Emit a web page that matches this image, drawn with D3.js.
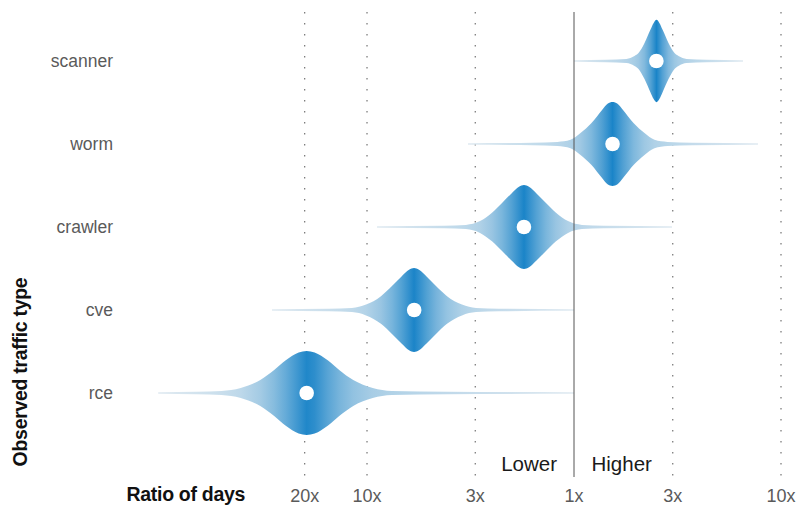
<!DOCTYPE html>
<html>
<head>
<meta charset="utf-8">
<script src="https://cdn.jsdelivr.net/npm/d3@7"></script>
<style>
  html, body { margin: 0; padding: 0; background: #fff; }
  svg { display: block; font-family: "Liberation Sans", Arial, Helvetica, sans-serif; }
</style>
</head>
<body>
<svg id="chart" width="797" height="506"></svg>
<script>
// ---------------- DATA ----------------
const categories = ["scanner", "worm", "crawler", "cve", "rce"];
// median ratio of days (values < 1 are "Lower", > 1 are "Higher")
const medians = [2.50, 1.535, 0.573, 0.169, 0.0511];

// density profiles: ratio positions and relative density (0..1)
const scannerRatio   = [1.00, 1.436, 1.793, 1.959, 2.049, 2.191, 2.342, 2.421, 2.504, 2.589, 2.676, 2.861, 3.059, 3.198, 3.496, 4.366, 6.553];
const scannerDensity = [0.02, 0.03, 0.05, 0.12, 0.19, 0.43, 0.75, 0.90, 0.98, 0.90, 0.75, 0.43, 0.19, 0.12, 0.05, 0.03, 0.02];

const wormRatio   = [0.3075, 0.630, 0.832, 0.962, 1.075, 1.215, 1.366, 1.452, 1.535, 1.623, 1.725, 1.939, 2.191, 2.448, 2.830, 3.736, 7.742];
const wormDensity = [0.02, 0.03, 0.05, 0.10, 0.26, 0.50, 0.81, 0.96, 1.00, 0.96, 0.81, 0.50, 0.26, 0.10, 0.05, 0.03, 0.02];

const crawlerRatio   = [0.1117, 0.2355, 0.3007, 0.3515, 0.4016, 0.449, 0.499, 0.5423, 0.5733, 0.6061, 0.6589, 0.7323, 0.8185, 0.9354, 1.093, 1.396, 2.974];
const crawlerDensity = [0.02, 0.03, 0.05, 0.14, 0.34, 0.57, 0.80, 0.96, 1.00, 0.96, 0.80, 0.57, 0.34, 0.14, 0.05, 0.03, 0.02];

const cveRatio   = [0.03476, 0.06554, 0.0846, 0.0989, 0.1168, 0.1320, 0.1468, 0.1596, 0.1687, 0.1783, 0.1939, 0.2154, 0.2435, 0.2876, 0.3362, 0.4342, 1.00];
const cveDensity = [0.02, 0.03, 0.05, 0.13, 0.33, 0.57, 0.80, 0.96, 1.00, 0.96, 0.80, 0.57, 0.33, 0.13, 0.05, 0.03, 0.02];

const rceRatio   = [0.0098, 0.01504, 0.01986, 0.02454, 0.0305, 0.0356, 0.0405, 0.04675, 0.0511, 0.05585, 0.0646, 0.0734, 0.0858, 0.1066, 0.1316, 0.2427, 1.00];
const rceDensity = [0.02, 0.03, 0.05, 0.12, 0.31, 0.55, 0.78, 0.965, 1.00, 0.965, 0.78, 0.55, 0.31, 0.12, 0.05, 0.03, 0.02];

const profileRatios = [scannerRatio, wormRatio, crawlerRatio, cveRatio, rceRatio];
const profileDensities = [scannerDensity, wormDensity, crawlerDensity, cveDensity, rceDensity];

const tickValues = [1/20, 1/10, 1/3, 1, 3, 10];
const tickLabels = ["20x", "10x", "3x", "1x", "3x", "10x"];

// ---------------- CHART ----------------
const svg = d3.select("#chart");
const x = d3.scaleLog().domain([1/20, 10]).range([304.7, 781]);
const y = d3.scalePoint().domain(categories).range([61, 393]);
const h = d3.scaleLinear().domain([0, 1]).range([0, 42]);
const gridTop = 12, gridBottom = 477;

const pale = "#e0eaf1", dark = "#1a84c8";
const colorAt = d3.interpolateRgb(pale, dark);

// dotted gridlines
svg.append("g").selectAll("line")
  .data(tickValues.filter(v => v !== 1))
  .join("line")
  .attr("x1", d => x(d)).attr("x2", d => x(d))
  .attr("y1", gridTop).attr("y2", gridBottom)
  .attr("stroke", "#666").attr("stroke-width", 1.1)
  .attr("stroke-dasharray", "1.5,9.5");

const defs = svg.append("defs");
const area = d3.area().curve(d3.curveMonotoneX);

categories.forEach((cat, i) => {
  const cy = y(cat);
  const pts = profileRatios[i].map((r, j) => ({ r, d: profileDensities[i][j], px: x(r) }));
  // cumulative distribution (trapezoid in pixel space)
  const cum = [0];
  for (let j = 1; j < pts.length; j++) {
    cum.push(cum[j - 1] + (pts[j].px - pts[j - 1].px) * (pts[j].d + pts[j - 1].d) / 2);
  }
  const total = cum[cum.length - 1];
  const x1 = pts[0].px, x2 = pts[pts.length - 1].px;
  const grad = defs.append("linearGradient")
    .attr("id", "g" + i)
    .attr("gradientUnits", "userSpaceOnUse")
    .attr("x1", x1).attr("x2", x2).attr("y1", 0).attr("y2", 0);
  pts.forEach((p, j) => {
    const F = cum[j] / total;
    const t = Math.max(0, 1 - 2 * Math.abs(F - 0.5));
    grad.append("stop")
      .attr("offset", (p.px - x1) / (x2 - x1))
      .attr("stop-color", colorAt(Math.pow(t, 0.7)));
  });

  area.x(p => p.px).y0(p => cy + h(p.d)).y1(p => cy - h(p.d));
  svg.append("path")
    .datum(pts)
    .attr("d", area)
    .attr("fill", `url(#g${i})`);

  svg.append("circle")
    .attr("cx", x(medians[i])).attr("cy", cy).attr("r", 7.3)
    .attr("fill", "#fff");
});

// 1x reference line
svg.append("line")
  .attr("x1", x(1)).attr("x2", x(1))
  .attr("y1", gridTop).attr("y2", gridBottom)
  .attr("stroke", "#555").attr("stroke-width", 1);

// category labels
svg.append("g").selectAll("text")
  .data(categories)
  .join("text")
  .attr("x", 113).attr("y", d => y(d) + 6)
  .attr("text-anchor", "end")
  .attr("font-size", 17.5)
  .attr("fill", "#5a5a5a")
  .text(d => d);

// x tick labels
svg.append("g").selectAll("text")
  .data(tickValues)
  .join("text")
  .attr("x", d => x(d)).attr("y", 502)
  .attr("text-anchor", "middle")
  .attr("font-size", 18)
  .attr("fill", "#5a5a5a")
  .text((d, i) => tickLabels[i]);

// Lower / Higher
svg.append("text").attr("x", x(1) - 17).attr("y", 471)
  .attr("text-anchor", "end").attr("font-size", 20.5).attr("fill", "#1a1a1a").text("Lower");
svg.append("text").attr("x", x(1) + 17.5).attr("y", 471)
  .attr("text-anchor", "start").attr("font-size", 20.5).attr("fill", "#1a1a1a").text("Higher");

// axis titles
svg.append("text").attr("x", 126.5).attr("y", 501)
  .attr("font-size", 19.5).attr("font-weight", "bold").attr("fill", "#111")
  .attr("letter-spacing", -0.3)
  .text("Ratio of days");
svg.append("text")
  .attr("transform", "translate(27,372) rotate(-90)")
  .attr("text-anchor", "middle")
  .attr("font-size", 19.5).attr("font-weight", "bold").attr("fill", "#111")
  .attr("letter-spacing", -0.3)
  .text("Observed traffic type");
</script>
</body>
</html>
